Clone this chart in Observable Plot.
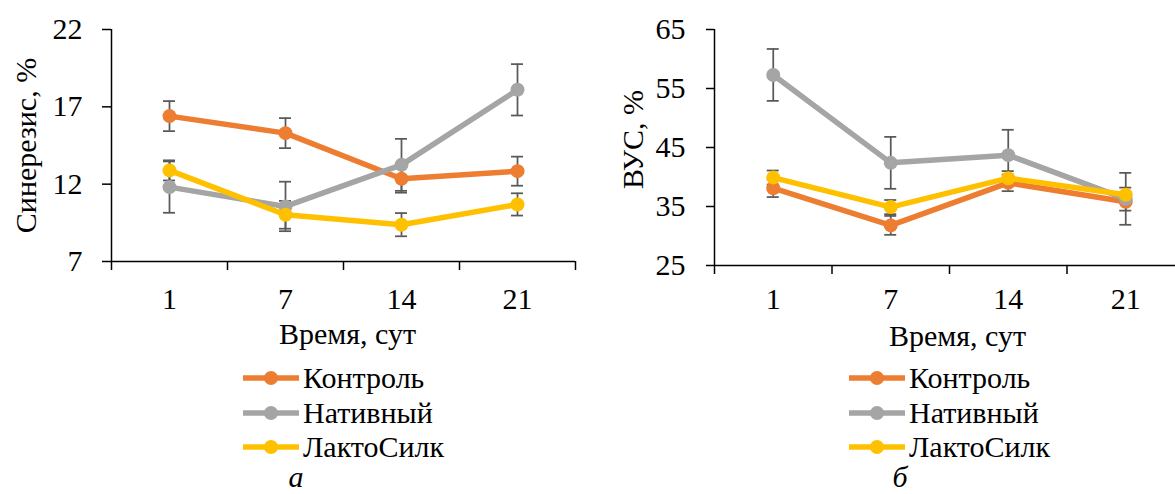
<!DOCTYPE html>
<html><head><meta charset="utf-8">
<script src="https://cdn.jsdelivr.net/npm/d3@7"></script>
<script src="https://cdn.jsdelivr.net/npm/@observablehq/plot@0.6"></script>
<style>
html,body{margin:0;padding:0;overflow:hidden;background:#fff;}
#root{position:relative;width:1175px;height:494px;overflow:hidden;font-family:"Liberation Serif","Times New Roman",serif;color:#000;}
.panel{position:absolute;top:0;}
.legend{position:absolute;font-size:30px;}
.item{display:flex;align-items:center;height:34.5px;white-space:nowrap;}
.item svg{display:block;margin-right:4px;}
.cap{position:absolute;font-style:italic;font-size:30px;line-height:28px;height:28px;width:40px;text-align:center;}
</style></head><body><div id="root"></div>
<script>
// ---- data ----
const days = ["1", "7", "14", "21"];
const seriesNames = ["Контроль", "Нативный", "ЛактоСилк"];
const seriesColors = ["#ED7D31", "#A5A5A5", "#FFC000"];

// Синерезис, % (panel а)
const synControl = [16.4, 15.3, 12.35, 12.84];
const synControlErr = [0.97, 0.97, 0.9, 0.94];
const synNative = [11.81, 10.56, 13.25, 18.1];
const synNativeErr = [1.66, 1.6, 1.68, 1.66];
const synLacto = [12.89, 10.02, 9.38, 10.69];
const synLactoErr = [0.65, 0.9, 0.75, 0.72];
const synTicks = [7, 12, 17, 22];

// ВУС, % (panel б)
const wrcControl = [38.1, 31.8, 39.0, 35.8];
const wrcControlErr = [1.5, 1.6, 1.4, 1.5];
const wrcNative = [57.3, 42.4, 43.7, 36.3];
const wrcNativeErr = [4.4, 4.4, 4.3, 4.4];
const wrcLacto = [39.9, 34.9, 39.8, 37.0];
const wrcLactoErr = [1.2, 1.2, 1.2, 1.2];
const wrcTicks = [25, 35, 45, 55, 65];

const xTitle = "Время, сут";
const FONT = '"Liberation Serif","Times New Roman",serif';

function makePanel(o) {
  const rows = [];
  seriesNames.forEach((s, si) => days.forEach((d, di) => rows.push({
    series: s, day: d, pos: di + 0.5, value: o.values[si][di], err: o.errs[si][di]
  })));
  const y0 = o.ticks[0], y1 = o.ticks[o.ticks.length - 1];
  const marks = [
    Plot.axisY({ticks: o.ticks, tickSize: o.yTickSize, tickPadding: o.yTickPad, strokeWidth: 1.5, fontSize: 30, label: null}),
    Plot.axisX({ticks: d3.range(days.length + 1), tickFormat: () => "", tickSize: 9, strokeWidth: 1.5, label: null}),
    Plot.axisX({ticks: days.map((d, i) => i + 0.5), tickFormat: v => days[Math.floor(v)], tickSize: 0, tickPadding: o.xTickPad, fontSize: 30, label: null}),
    Plot.ruleX([0], {stroke: "#000", strokeWidth: 1.5}),
    Plot.ruleY([y0], {stroke: "#000", strokeWidth: 1.5}),
    Plot.ruleX(rows, {x: "pos", y1: d => d.value - d.err, y2: d => d.value + d.err, stroke: "#595959", strokeWidth: 1.75}),
    Plot.ruleY(rows, {x1: "pos", x2: "pos", y: d => d.value + d.err, insetLeft: -6, insetRight: -6, stroke: "#595959", strokeWidth: 1.75}),
    Plot.ruleY(rows, {x1: "pos", x2: "pos", y: d => d.value - d.err, insetLeft: -6, insetRight: -6, stroke: "#595959", strokeWidth: 1.75})
  ];
  seriesNames.forEach(s => {
    const sub = rows.filter(r => r.series === s);
    marks.push(Plot.line(sub, {x: "pos", y: "value", stroke: "series", strokeWidth: 5.5, strokeLinejoin: "round"}));
    marks.push(Plot.dot(sub, {x: "pos", y: "value", fill: "series", r: 7}));
  });
  marks.push(Plot.text([o.yLabel], {frameAnchor: "left", rotate: -90, dx: o.yLabelDx, dy: o.yLabelDy, fontSize: 30, lineAnchor: "middle", textAnchor: "middle"}));
  marks.push(Plot.text([xTitle], {frameAnchor: "bottom", dx: o.xLabelDx, dy: o.xLabelDy, fontSize: 30, lineAnchor: "bottom", textAnchor: "middle"}));
  return Plot.plot({
    width: o.width, height: o.height,
    marginLeft: o.marginLeft, marginRight: o.marginRight, marginTop: o.marginTop, marginBottom: o.marginBottom,
    x: {type: "linear", domain: [0, days.length]},
    y: {domain: [y0, y1]},
    color: {domain: seriesNames, range: seriesColors},
    style: {fontFamily: FONT, fontSize: "30px", color: "#000", background: "transparent", overflow: "visible"},
    marks
  });
}

function makeLegend(left, top) {
  const div = document.createElement("div");
  div.className = "legend";
  div.style.left = left + "px";
  div.style.top = top + "px";
  seriesNames.forEach((s, i) => {
    const item = document.createElement("div");
    item.className = "item";
    const ns = "http://www.w3.org/2000/svg";
    const svg = document.createElementNS(ns, "svg");
    svg.setAttribute("width", 56); svg.setAttribute("height", 20);
    const ln = document.createElementNS(ns, "line");
    ln.setAttribute("x1", 0); ln.setAttribute("x2", 56); ln.setAttribute("y1", 10); ln.setAttribute("y2", 10);
    ln.setAttribute("stroke", seriesColors[i]); ln.setAttribute("stroke-width", 5.5);
    const c = document.createElementNS(ns, "circle");
    c.setAttribute("cx", 28); c.setAttribute("cy", 10); c.setAttribute("r", 7); c.setAttribute("fill", seriesColors[i]);
    svg.appendChild(ln); svg.appendChild(c);
    const t = document.createElement("span");
    t.textContent = s;
    item.appendChild(svg); item.appendChild(t);
    div.appendChild(item);
  });
  return div;
}

const root = document.getElementById("root");

const left = makePanel({
  values: [synControl, synNative, synLacto], errs: [synControlErr, synNativeErr, synLactoErr],
  ticks: synTicks, yLabel: "Синерезис, %",
  width: 587, height: 360, marginLeft: 111, marginRight: 12, marginTop: 29, marginBottom: 99,
  yTickSize: 9, yTickPad: 20, xTickPad: 26, yLabelDx: -85, yLabelDy: 0, xLabelDx: 4, xLabelDy: 82
});
left.classList.add("panel"); left.style.left = "0px";
root.appendChild(left);

const right = makePanel({
  values: [wrcControl, wrcNative, wrcLacto], errs: [wrcControlErr, wrcNativeErr, wrcLactoErr],
  ticks: wrcTicks, yLabel: "ВУС, %",
  width: 600, height: 360, marginLeft: 127, marginRight: 3, marginTop: 29, marginBottom: 95,
  yTickSize: 8, yTickPad: 21, xTickPad: 22, yLabelDx: -81, yLabelDy: -8, xLabelDx: 8, xLabelDy: 80
});
right.classList.add("panel"); right.style.left = "587px";
root.appendChild(right);

root.appendChild(makeLegend(243, 361));
root.appendChild(makeLegend(849, 361));

const capA = document.createElement("div");
capA.className = "cap"; capA.textContent = "а"; capA.style.left = "276px"; capA.style.top = "463px";
root.appendChild(capA);
const capB = document.createElement("div");
capB.className = "cap"; capB.textContent = "б"; capB.style.left = "880px"; capB.style.top = "463px";
root.appendChild(capB);
</script></body></html>
